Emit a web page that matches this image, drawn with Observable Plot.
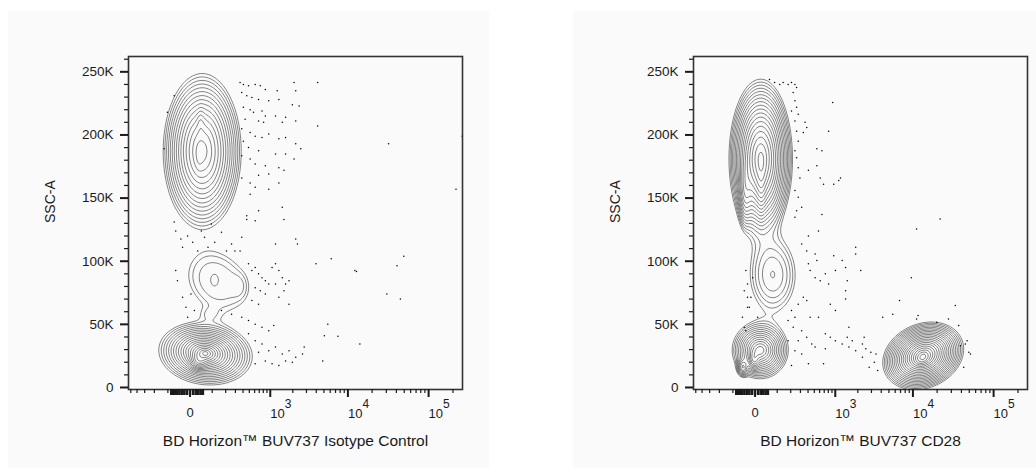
<!DOCTYPE html>
<html>
<head>
<meta charset="utf-8">
<script src="https://cdn.jsdelivr.net/npm/d3@7"></script>
<script src="https://cdn.jsdelivr.net/npm/@observablehq/plot@0.6"></script>
<style>
  html, body { margin: 0; padding: 0; background: #ffffff; }
  #wrap { position: relative; width: 1036px; height: 468px; overflow: hidden; }
  #p1 { position: absolute; left: 8px; top: 11px; }
  #p2 { position: absolute; left: 573px; top: 11px; }
</style>
</head>
<body>
<div id="wrap"><div id="p1"></div><div id="p2"></div></div>
<script>
// ---------------- data ----------------
const xTitles = ["BD Horizon™ BUV737 Isotype Control", "BD Horizon™ BUV737 CD28"];
const yTitle = "SSC-A";
const xDomain = [-541, 262144];
const yDomain = [-1600, 262144];
const xConstant = 114;

const yMajorTicks = [0, 50000, 100000, 150000, 200000, 250000];
const yMinorTicks = d3.range(10000, 260001, 10000).filter(d => d % 50000 !== 0);
const xMajorTicks = [0, 1000, 10000, 100000];
const xNearZeroTicks = [-80, -70, -60, -50, -40, -30, -20, -10, 10, 20, 30, 40, 50];
const xMinorTicks = [-500, -400, -300, -200, -100, 100, 200, 300, 400, 500, 600, 700, 800, 900,
  2000, 3000, 4000, 5000, 6000, 7000, 8000, 9000,
  20000, 30000, 40000, 50000, 60000, 70000, 80000, 90000, 200000];

// population components
// (center x raw, center y raw, spread in decades, spread in y, correlation, peak weight, shape exponent)
const isoPopX     = [47, 33, 40, 135, 114, 361, 80, 63, 33];
const isoPopY     = [187000, 183000, 210000, 84000, 85000, 80000, 58000, 27000, 21000];
const isoPopSU    = [0.231, 0.04, 0.04, 0.418, 0.05, 0.10, 0.14, 0.136, 0.08];
const isoPopSY    = [29600, 10000, 9000, 26000, 5000, 10000, 6000, 5900, 5000];
const isoPopRho   = [0, 0, 0, -0.2, 0, 0, 0, -0.1, 0];
const isoPopAmp   = [25.4, 3, 3, 1.8, 0.35, 0.5, 0.6, 69.4, 15];
const isoPopShape = [1.6, 2, 2, 3, 2, 2, 2, 1, 2];

const cdPopX     = [20, 22, -36, 75, 18, -3, -47, 13440, 12970];
const cdPopY     = [181000, 165000, 155000, 89000, 29500, 22000, 16000, 25000, 22500];
const cdPopSU    = [0.17, 0.05, 0.06, 0.26, 0.144, 0.05, 0.05, 0.158, 0.07];
const cdPopSY    = [27400, 20000, 18000, 26500, 9400, 6000, 5000, 8500, 4000];
const cdPopRho   = [0, 0, 0, 0, 0, 0, 0, 0.2, 0.2];
const cdPopAmp   = [45, 8, 6, 3.05, 22.7, 8, 6, 86.7, 20];
const cdPopShape = [1.6, 2, 2, 2, 1.3, 2, 2, 1.3, 2];

const contourLevels = d3.range(0, 30).map(k => Math.pow(1.25, k));

// outlier events (x raw, y in K)
const isoDotX = [358,405,486,612,725,854,1241,2074,2182,4170,381,457,546,685,952,1308,1973,2413,405,515,578,766,854,1178,1607,2182,4170,431,685,808,1451,381,515,612,766,952,1308,1607,2182,2538,32000,405,486,685,1178,1607,2074,381,515,612,854,1308,1527,685,952,381,515,612,952,1308,515,685,1451,457,612,1527,218000,260000,-124,-65,-103,
 -65,-57,-34,-27,-8,9,28,43,58,76,95,116,164,207,257,294,358,381,457,1178,2182,2295,3970,6180,12200,12800,40700,49400,
 486,546,612,685,766,854,952,1059,1178,1308,1451,1607,612,725,854,1527,1782,1178,1308,546,685,1782,
 -57,-49,-27,-14,3,-8,15,
 164,257,381,486,612,766,952,1116,486,612,766,952,1178,1451,1782,1973,2182,2805,2669,685,854,1059,1308,1607,612,5600,5070,7500,4830,14100,30500,44800];
const isoDotY = [241.5,240,239,240,239,236,235,241.5,235,241.5,233.6,231,229.7,228,227,228,224,223,222,220,218,219,215,215,214,211,207,212.5,211,210,210,205,202,199,198,200.7,197,198,193,189,193,195,190,187.5,185,185,181,183.5,181,177,175.6,174,172,168,169,166,162,158.5,157,162,153,140,142.7,136,132,133,157,199,189,231,218,
 131,124,117.6,111,120,115,108,124,119,111,129.5,115,123,108,113.7,108,108,119,133,113.7,117.6,113.7,98,102,92.6,91.8,96.5,104,
 98,92.6,95,90,87,84.6,82,95,98,92.6,87,82,79,76.7,74,76.7,84.6,82,71.5,68.8,66,66,
 92.6,84.6,71.5,63.5,74,55.6,61,
 61,58,55.6,53,50,47.7,45,49,42.5,37,34.5,29,32,26.6,29,20,24,32,26.6,28,21,18.7,17.4,21,18.7,50,41,40.6,21,34.5,74,70];

const cdDotX = [58,85,116,139,178,207,240,257,
 223,240,257,207,275,240,257,275,240,257,275,294,240,275,315,257,240,
 358,381,335,921,808,546,648,546,405,612,685,952,1178,1116,648,578,405,315,381,515,546,405,431,515,612,725,808,952,1241,1378,1451,1005,1876,1876,2182,1378,1378,1005,854,578,431,335,381,275,207,240,178,223,315,381,457,275,178,240,315,405,207,515,725,854,1005,1241,1527,1876,2295,2538,2947,3420,3260,3600,2805,2295,1693,1451,1527,2413,4170,5600,6800,9560,11100,11600,19800,27700,33600,37000,11100,21800,44800,49400,51800,47100,42700,38800,685,725,
 -34,-27,-14,-27,-49,-41,9,-27,-20,-34,-41,-8];
const cdDotY = [244,241.5,240,241.5,240,241.5,240,237.6,
 233.6,227,222,219,216.5,211,203,195,187.5,182,174,166,156,150.6,142.7,140,134.8,
 210,206,202,225.7,203,189,187.5,175.6,172,166,161,161,166,164,137,124,120,113.7,108,105.7,100.5,98,92.6,87,84.6,90,82,104.4,100.5,95,84.6,92.6,111,105.7,92.6,70,76.7,61,66,55.6,55.6,71.5,68.8,66,61,55.6,53,47.7,45,39.8,34.5,37,37,29,26.6,18.7,17.4,32,42.5,39.8,37,34.5,32,29,34.5,30.6,28,26.6,20,13.4,16,24,37,39.8,47.7,39.8,55.6,58,68.8,87,54.3,57,51.7,54.3,65,49,125.5,133.4,34.5,28,26.6,37,16,33,18.7,30.6,
 92.6,82,71.5,63.5,55.6,47.7,55.6,71.5,63.5,45,76.7,87];

// ---------------- helpers ----------------
const tx = v => Math.sign(v) * Math.log10(1 + Math.abs(v) / xConstant);
function density(px, py, su, sy, rho, amp, shape) {
  const uc = px.map(tx);
  return (x, y) => {
    const u = tx(x);
    let s = 0;
    for (let i = 0; i < px.length; i++) {
      const a = (u - uc[i]) / su[i], b = (y - py[i]) / sy[i], r = rho[i];
      const d2 = (a * a - 2 * r * a * b + b * b) / (1 - r * r);
      s += amp[i] * Math.exp(-Math.pow(d2, shape[i] / 2));
    }
    return s;
  };
}
const toPoints = (xs, ys) => xs.slice(0, Math.min(xs.length, ys.length)).map((x, i) => ({x, y: ys[i] * 1000}));

function panel(title, dens, dots, width, marginRight) {
  const ink = "#1a1a1a";
  return Plot.plot({
    width, height: 457,
    marginLeft: 120, marginRight, marginTop: 45, marginBottom: 79,
    style: {background: "#fafafa", fontFamily: "'Liberation Sans', Arial, sans-serif", color: ink, overflow: "visible"},
    x: {type: "symlog", constant: xConstant, domain: xDomain},
    y: {domain: yDomain},
    marks: [
      Plot.contour({
        value: dens,
        x1: xDomain[0], x2: xDomain[1], y1: yDomain[0], y2: yDomain[1],
        thresholds: contourLevels,
        fill: "none", stroke: "#666666", strokeWidth: 0.8, pixelSize: 1
      }),
      Plot.dot(dots, {x: "x", y: "y", r: 0.75, fill: "#000", stroke: "none"}),
      Plot.frame({stroke: "#333333", strokeWidth: 1.6}),
      Plot.axisY(yMajorTicks, {tickSize: 8, tickPadding: 7, strokeWidth: 2, stroke: ink, fontSize: 13.5, label: null,
        tickFormat: d => d === 0 ? "0" : (d / 1000) + "K"}),
      Plot.axisY(yMinorTicks, {tickSize: 4, strokeWidth: 1.2, stroke: ink, label: null, tickFormat: () => ""}),
      Plot.axisX(xMajorTicks, {tickSize: 8, strokeWidth: 2, stroke: ink, label: null, tickFormat: () => ""}),
      Plot.axisX(xNearZeroTicks, {tickSize: 6, strokeWidth: 2.6, stroke: ink, label: null, tickFormat: () => ""}),
      Plot.axisX(xMinorTicks, {tickSize: 4, strokeWidth: 1.2, stroke: ink, label: null, tickFormat: () => ""}),
      Plot.text([0], {x: d => d, text: () => "0", frameAnchor: "bottom", dy: 27, fontSize: 13, fill: ink}),
      Plot.text(xMajorTicks.filter(d => d > 0), {x: d => d, text: () => "10", frameAnchor: "bottom", dy: 28, textAnchor: "start", fontSize: 13, fill: ink}),
      Plot.text(xMajorTicks.filter(d => d > 0), {x: d => d, text: d => String(Math.round(Math.log10(d))), frameAnchor: "bottom", dy: 18, dx: 14.5, textAnchor: "start", fontSize: 12, fill: ink}),
      Plot.text([yTitle], {text: d => d, frameAnchor: "left", dx: -78, rotate: -90, fontSize: 14, fill: ink}),
      Plot.text([title], {text: d => d, frameAnchor: "bottom", dy: 56, fontSize: 15.5, fill: ink})
    ]
  });
}

document.getElementById("p1").appendChild(panel(xTitles[0],
  density(isoPopX, isoPopY, isoPopSU, isoPopSY, isoPopRho, isoPopAmp, isoPopShape),
  toPoints(isoDotX, isoDotY), 481, 27));
document.getElementById("p2").appendChild(panel(xTitles[1],
  density(cdPopX, cdPopY, cdPopSU, cdPopSY, cdPopRho, cdPopAmp, cdPopShape),
  toPoints(cdDotX, cdDotY), 463, 9));
</script>
</body>
</html>
